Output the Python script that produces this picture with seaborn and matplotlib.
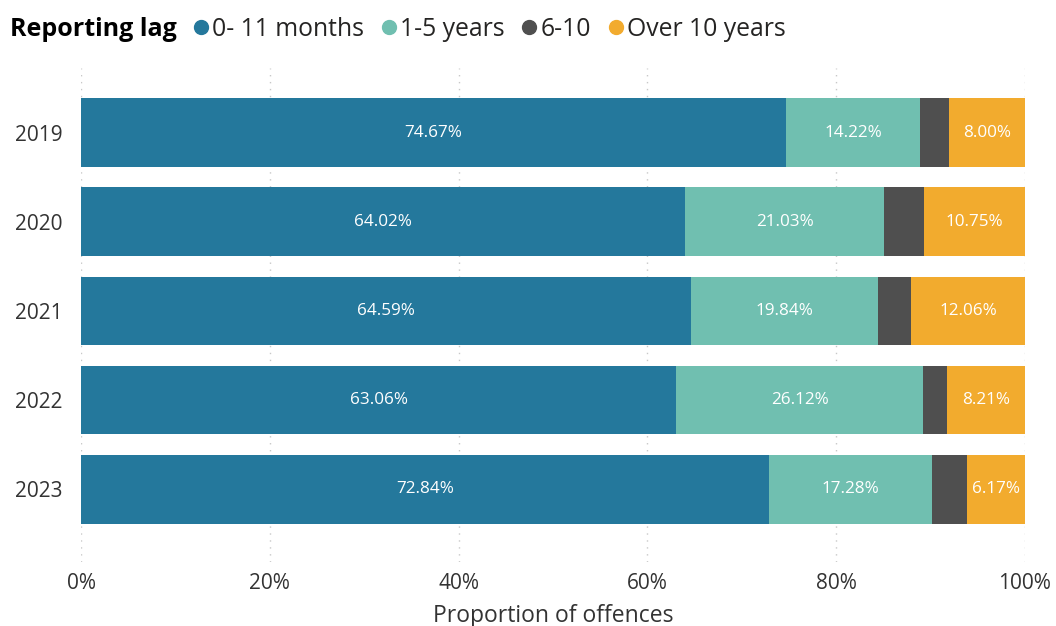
import numpy as np
import pandas as pd
import seaborn as sns
import matplotlib.pyplot as plt
from matplotlib.lines import Line2D
from matplotlib.ticker import PercentFormatter

years = ["2019", "2020", "2021", "2022", "2023"]
lag_0_11m = [74.67, 64.02, 64.59, 63.06, 72.84]
lag_1_5y = [14.22, 21.03, 19.84, 26.12, 17.28]
lag_6_10 = [3.11, 4.20, 3.51, 2.61, 3.71]
lag_over10 = [8.00, 10.75, 12.06, 8.21, 6.17]

series = ["0- 11 months", "1-5 years", "6-10", "Over 10 years"]
colors = ["#24789c", "#70bfb0", "#4f4f4f", "#f2ab2e"]
labelled = [True, True, False, True]

sns.set_theme(style="white")
plt.rcParams["font.family"] = ["Open Sans", "DejaVu Sans"]

df = pd.DataFrame({"year": years, series[0]: lag_0_11m, series[1]: lag_1_5y,
                   series[2]: lag_6_10, series[3]: lag_over10})
cum = df[series].cumsum(axis=1)

fig = plt.figure(figsize=(10.56, 6.26), dpi=100)
ax = fig.add_axes([81 / 1056, 1 - 562 / 626, (1025 - 81) / 1056, (562 - 68) / 626])

# draw stacked bars back to front using cumulative totals
for s, c in zip(reversed(series), reversed(colors)):
    sns.barplot(x=cum[s], y=df["year"], color=c, orient="h", width=0.775,
                saturation=1, ax=ax, linewidth=0)

for s, show in zip(series, labelled):
    if not show:
        continue
    mids = cum[s] - df[s] / 2
    for i, (m, v) in enumerate(zip(mids, df[s])):
        ax.text(m, i, f"{v:.2f}%", ha="center", va="center", color="white", fontsize=12.3)

ax.set_xlim(0, 100)
ax.set_ylim(4.82, -0.73)
ax.xaxis.set_major_formatter(PercentFormatter(decimals=0))
ax.set_xticks([0, 20, 40, 60, 80, 100])
ax.grid(axis="x", color="#c8c8c8", linestyle=(0, (1, 4)), linewidth=1)
ax.set_axisbelow(True)
for sp in ax.spines.values():
    sp.set_visible(False)
ax.tick_params(axis="both", length=0, labelsize=15, colors="#333333", pad=8)
ax.tick_params(axis="y", pad=13)
ax.set_ylabel("")
ax.set_xlabel("Proportion of offences", fontsize=16.5, color="#333333", labelpad=7)

fig.text(10 / 1056, 1 - 29 / 626, "Reporting lag", fontsize=18, fontweight="bold",
         color="#000000", va="center", ha="left")
handles = [Line2D([], [], marker="o", linestyle="", markersize=10, color=c) for c in colors]
fig.legend(handles, series, loc="center left", bbox_to_anchor=(190 / 1056, 1 - 29 / 626),
           ncol=4, frameon=False, fontsize=17.8, handletextpad=0.0, columnspacing=0.55,
           handlelength=0.9, borderpad=0, borderaxespad=0, labelcolor="#252423")

fig.savefig("out.png", dpi=100)
